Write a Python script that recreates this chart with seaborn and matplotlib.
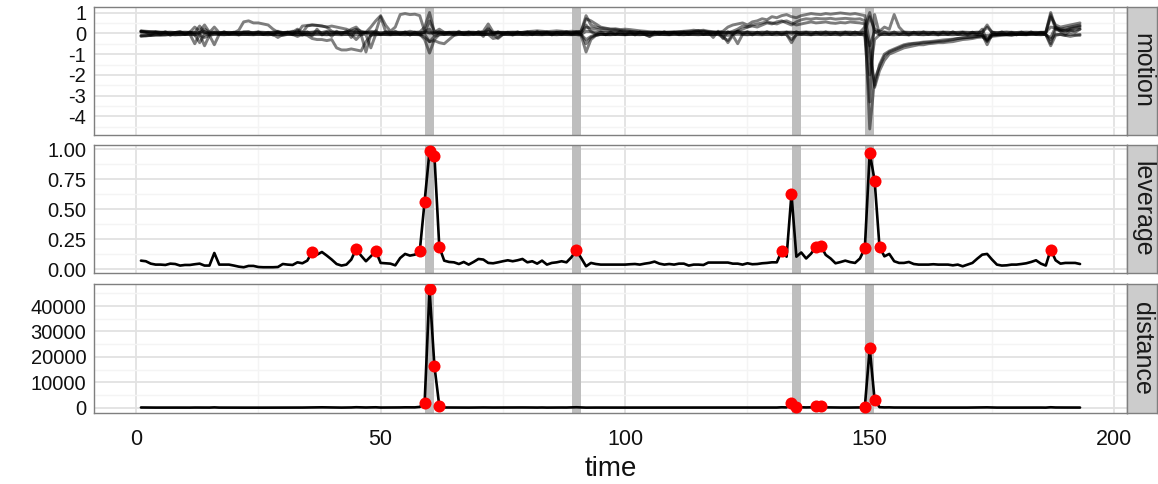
import numpy as np
import pandas as pd
import matplotlib
matplotlib.use("Agg")
import matplotlib.pyplot as plt
import seaborn as sns

# ---------------- data ----------------
time = list(range(1, 194))

motion_1 = [0.10, 0.08, 0.07, 0.08, 0.06, 0.05, 0.06, 0.04, 0.05, 0.06,
            0.05, 0.30, 0.10, 0.40, 0.05, 0.06, 0.04, 0.05, 0.03, 0.05,
            0.04, 0.06, 0.05, 0.04, 0.06, 0.05, 0.03, 0.05, 0.10, 0.04,
            0.05, 0.06, 0.20, 0.05, 0.04, 0.06, 0.05, 0.04, 0.10, 0.05,
            0.06, 0.05, 0.04, 0.20, 0.30, 0.05, 0.04, 0.10, 0.06, 0.80,
            0.10, 0.05, 0.06, 0.05, 0.04, 0.10, 0.05, 0.06, 0.30, 1.00,
            0.05, 0.20, 0.04, 0.05, 0.06, 0.04, 0.05, 0.06, 0.05, 0.04,
            0.10, 0.45, 0.06, 0.05, 0.04, 0.05, 0.06, 0.05, 0.04, 0.06,
            0.05, 0.04, 0.06, 0.05, 0.04, 0.05, 0.06, 0.05, 0.04, 0.05,
            0.10, 0.85, 0.40, 0.30, 0.25, 0.22, 0.20, 0.18, 0.15, 0.12,
            0.10, 0.08, 0.06, 0.05, 0.04, 0.05, 0.06, 0.05, 0.04, 0.05,
            0.06, 0.05, 0.04, 0.05, 0.06, 0.10, 0.05, 0.04, 0.05, 0.06,
            0.05, 0.04, 0.10, 0.05, 0.06, 0.05, 0.04, 0.05, 0.06, 0.05,
            0.04, 0.05, 0.06, 0.05, 0.04, 0.05, 0.06, 0.05, 0.04, 0.05,
            0.06, 0.05, 0.04, 0.05, 0.06, 0.05, 0.04, 0.05, 0.30, 1.00,
            0.05, 0.10, 0.06, 0.05, 0.04, 0.05, 0.06, 0.05, 0.04, 0.05,
            0.06, 0.05, 0.04, 0.05, 0.06, 0.05, 0.04, 0.05, 0.06, 0.05,
            0.04, 0.05, 0.06, 0.40, 0.05, 0.04, 0.05, 0.06, 0.05, 0.04,
            0.05, 0.06, 0.05, 0.04, 0.05, 0.06, 1.00, 0.30, 0.20, 0.15,
            0.25, 0.30, 0.35]

motion_2 = [-0.15, -0.12, -0.10, -0.08, -0.06, -0.05, -0.04, -0.05, -0.06, -0.05,
            -0.04, -0.50, -0.05, -0.60, -0.10, -0.05, -0.04, -0.05, -0.06, -0.05,
            -0.04, -0.05, -0.06, -0.05, -0.04, -0.05, -0.06, -0.05, -0.20, -0.05,
            -0.04, -0.05, -0.15, -0.05, -0.06, -0.05, -0.04, -0.05, -0.06, -0.05,
            -0.04, -0.05, -0.06, -0.05, -0.30, -0.05, -0.06, -0.70, -0.05, -0.04,
            -0.05, -0.06, -0.05, -0.04, -0.05, -0.06, -0.05, -0.04, -0.30, -0.95,
            -0.30, -0.05, -0.06, -0.05, -0.04, -0.05, -0.06, -0.05, -0.04, -0.05,
            -0.06, -0.05, -0.25, -0.20, -0.05, -0.04, -0.05, -0.06, -0.05, -0.04,
            -0.05, -0.06, -0.05, -0.04, -0.05, -0.06, -0.05, -0.04, -0.05, -0.06,
            -0.10, -0.90, -0.30, -0.10, -0.05, -0.06, -0.05, -0.04, -0.05, -0.06,
            -0.05, -0.04, -0.05, -0.06, -0.15, -0.05, -0.04, -0.05, -0.06, -0.05,
            -0.04, -0.05, -0.06, -0.05, -0.04, -0.05, -0.06, -0.05, -0.04, -0.10,
            -0.45, -0.10, -0.50, -0.05, -0.06, -0.05, -0.04, -0.05, -0.06, -0.05,
            -0.04, -0.05, -0.06, -0.45, -0.05, -0.04, -0.05, -0.06, -0.05, -0.04,
            -0.05, -0.06, -0.05, -0.04, -0.05, -0.06, -0.05, -0.04, -0.10, -3.30,
            0.90, -0.05, -0.06, -0.05, -0.04, -0.05, -0.06, -0.05, -0.04, -0.05,
            -0.06, -0.05, -0.04, -0.05, -0.06, -0.05, -0.04, -0.05, -0.06, -0.05,
            -0.04, -0.05, -0.06, -0.55, -0.05, -0.04, -0.05, -0.06, -0.05, -0.04,
            -0.05, -0.06, -0.05, -0.04, -0.05, -0.06, -0.60, -0.10, -0.05, -0.10,
            -0.15, -0.10, -0.05]

motion_3 = [0.12, 0.10, 0.08, 0.05, 0.04, 0.03, 0.02, 0.03, 0.02, 0.01,
            0.02, 0.03, 0.35, 0.02, 0.01, 0.02, 0.03, 0.02, 0.01, 0.02,
            0.15, 0.55, 0.60, 0.50, 0.50, 0.45, 0.40, 0.20, 0.05, 0.02,
            0.03, 0.02, 0.01, 0.35, 0.38, 0.40, 0.38, 0.35, 0.30, 0.10,
            0.02, 0.03, 0.05, 0.10, 0.20, 0.10, 0.05, 0.30, 0.60, 0.85,
            0.40, 0.10, 0.30, 0.90, 0.95, 0.90, 0.92, 0.85, 0.10, 0.02,
            0.03, 0.02, 0.01, 0.02, 0.03, 0.02, 0.01, 0.02, 0.03, 0.02,
            0.05, 0.10, 0.03, 0.02, 0.01, 0.02, 0.03, 0.02, 0.05, 0.08,
            0.10, 0.12, 0.10, 0.08, 0.10, 0.12, 0.10, 0.08, 0.10, 0.08,
            0.10, 0.70, 0.60, 0.45, 0.30, 0.25, 0.20, 0.22, 0.18, 0.20,
            0.18, 0.15, 0.12, 0.10, 0.08, 0.06, 0.05, 0.04, 0.05, 0.06,
            0.05, 0.06, 0.08, 0.10, 0.12, 0.15, 0.10, 0.08, 0.05, 0.10,
            0.30, 0.40, 0.45, 0.50, 0.40, 0.55, 0.60, 0.70, 0.65, 0.80,
            0.75, 0.85, 0.90, 0.80, 0.75, 0.85, 0.90, 0.95, 0.92, 0.90,
            0.95, 0.92, 0.95, 0.98, 0.95, 0.92, 0.95, 0.90, 0.85, -0.50,
            -2.60, -1.80, -1.30, -1.00, -0.90, -0.80, -0.70, -0.65, -0.60, -0.55,
            -0.55, -0.50, -0.48, -0.45, -0.45, -0.42, -0.40, -0.35, -0.30, -0.28,
            -0.25, -0.20, -0.18, -0.30, -0.15, -0.12, -0.10, -0.08, -0.10, -0.05,
            -0.05, -0.03, -0.02, -0.01, 0.00, 0.02, 0.80, 0.40, 0.30, 0.35,
            0.40, 0.45, 0.50]

motion_4 = [-0.10, -0.12, -0.10, -0.08, -0.10, -0.08, -0.06, -0.08, -0.05, -0.06,
            -0.05, -0.06, -0.08, -0.20, -0.10, -0.55, -0.05, -0.06, -0.05, -0.04,
            -0.05, -0.06, -0.05, -0.04, -0.06, -0.05, -0.04, -0.05, -0.06, -0.10,
            -0.05, -0.04, -0.06, -0.05, -0.10, -0.25, -0.30, -0.30, -0.35, -0.30,
            -0.70, -0.80, -0.80, -0.75, -0.80, -0.85, -0.40, -0.10, -0.05, -0.06,
            -0.05, -0.04, -0.06, -0.05, -0.04, -0.05, -0.06, -0.05, -0.20, -0.40,
            -0.35, -0.45, -0.50, -0.30, -0.10, -0.05, -0.06, -0.05, -0.04, -0.05,
            -0.06, -0.05, -0.04, -0.25, -0.05, -0.06, -0.05, -0.04, -0.05, -0.06,
            -0.05, -0.04, -0.05, -0.06, -0.05, -0.04, -0.05, -0.06, -0.05, -0.04,
            -0.05, -0.50, -0.20, -0.10, -0.05, -0.06, -0.05, -0.04, -0.05, -0.06,
            -0.05, -0.04, -0.05, -0.06, -0.05, -0.04, -0.05, -0.06, -0.05, -0.04,
            -0.05, -0.06, -0.05, -0.04, -0.05, -0.06, -0.05, -0.04, -0.05, -0.06,
            -0.10, -0.05, 0.10, 0.20, 0.30, 0.35, 0.30, 0.40, 0.50, 0.45,
            0.55, 0.60, 0.50, 0.40, 0.55, 0.65, 0.70, 0.68, 0.72, 0.70,
            0.70, 0.72, 0.68, 0.70, 0.72, 0.70, 0.68, 0.70, 0.60, -4.60,
            -2.20, -1.60, -1.10, -0.90, -0.80, -0.70, -0.60, -0.55, -0.50, -0.50,
            -0.45, -0.45, -0.42, -0.40, -0.38, -0.35, -0.30, -0.25, -0.22, -0.20,
            -0.18, -0.15, -0.12, -0.40, -0.10, -0.08, -0.06, -0.05, -0.04, -0.05,
            -0.06, -0.05, -0.04, -0.05, -0.06, -0.05, -0.50, 0.20, 0.15, 0.10,
            0.20, 0.25, 0.30]

motion_5 = [0.05, 0.04, 0.03, 0.02, 0.03, 0.02, 0.01, 0.02, 0.03, 0.02,
            0.03, 0.02, 0.01, 0.02, 0.03, 0.02, 0.01, 0.02, 0.03, 0.02,
            0.03, 0.02, 0.01, 0.02, 0.03, 0.02, 0.01, 0.02, 0.03, 0.02,
            0.03, 0.10, 0.05, 0.02, 0.35, 0.40, 0.38, 0.35, 0.30, 0.35,
            0.30, 0.25, 0.20, 0.10, 0.05, 0.02, 0.03, 0.02, 0.01, 0.02,
            0.03, 0.02, 0.01, 0.02, 0.03, 0.02, 0.01, 0.02, 0.03, 0.02,
            0.01, 0.02, 0.03, 0.02, 0.01, 0.02, 0.03, 0.02, 0.01, 0.02,
            0.03, 0.02, 0.01, 0.02, 0.03, 0.02, 0.01, 0.02, 0.03, 0.02,
            0.01, 0.02, 0.03, 0.02, 0.01, 0.02, 0.03, 0.02, 0.01, 0.02,
            0.03, 0.30, 0.25, 0.20, 0.15, 0.12, 0.10, 0.12, 0.10, 0.08,
            0.06, 0.05, 0.04, 0.03, 0.02, 0.03, 0.04, 0.05, 0.06, 0.05,
            0.08, 0.10, 0.12, 0.15, 0.12, 0.10, 0.08, 0.05, 0.04, 0.03,
            0.02, 0.10, 0.20, 0.35, 0.30, 0.40, 0.45, 0.50, 0.55, 0.50,
            0.45, 0.55, 0.60, 0.50, 0.40, 0.45, 0.50, 0.55, 0.50, 0.52,
            0.55, 0.50, 0.48, 0.52, 0.50, 0.55, 0.52, 0.50, 0.45, -1.00,
            -2.50, -1.50, -1.00, -0.85, -0.75, -0.65, -0.55, -0.50, -0.48, -0.45,
            -0.42, -0.40, -0.38, -0.35, -0.32, -0.30, -0.28, -0.25, -0.22, -0.20,
            -0.18, -0.15, -0.12, -0.10, -0.08, -0.06, -0.05, -0.04, -0.03, -0.02,
            -0.02, -0.01, 0.00, 0.01, 0.02, 0.05, 0.30, 0.25, 0.20, 0.25,
            0.30, 0.35, 0.40]

motion_6 = [0.08, 0.06, 0.05, 0.06, 0.04, 0.05, 0.03, 0.04, 0.05, 0.03,
            0.04, 0.05, 0.03, 0.20, 0.04, 0.30, 0.03, 0.04, 0.05, 0.03,
            0.04, 0.05, 0.03, 0.04, 0.05, 0.03, 0.04, 0.05, 0.03, 0.04,
            0.05, 0.03, 0.04, 0.05, 0.03, 0.04, 0.10, 0.03, 0.04, 0.05,
            0.03, 0.04, 0.05, 0.03, 0.04, 0.05, 0.03, 0.04, 0.05, 0.03,
            0.04, 0.05, 0.03, 0.04, 0.05, 0.03, 0.04, 0.05, 0.03, 0.60,
            0.10, 0.04, 0.05, 0.03, 0.04, 0.05, 0.03, 0.04, 0.05, 0.03,
            0.04, 0.20, 0.03, 0.04, 0.05, 0.03, 0.04, 0.05, 0.03, 0.04,
            0.05, 0.03, 0.04, 0.05, 0.03, 0.04, 0.05, 0.03, 0.04, 0.05,
            0.03, 0.40, 0.10, 0.04, 0.05, 0.03, 0.04, 0.05, 0.03, 0.04,
            0.05, 0.03, 0.04, 0.05, 0.03, 0.04, 0.05, 0.03, 0.04, 0.05,
            0.03, 0.04, 0.05, 0.03, 0.04, 0.05, 0.03, 0.04, 0.05, 0.03,
            0.04, 0.05, 0.03, 0.04, 0.05, 0.03, 0.04, 0.05, 0.03, 0.04,
            0.05, 0.03, 0.04, 0.05, 0.03, 0.04, 0.05, 0.03, 0.04, 0.05,
            0.03, 0.04, 0.05, 0.03, 0.04, 0.05, 0.03, 0.04, 0.05, 0.80,
            0.20, 0.10, 0.30, 0.20, 0.90, 0.30, 0.05, 0.03, 0.04, 0.05,
            0.03, 0.04, 0.05, 0.03, 0.04, 0.05, 0.03, 0.04, 0.05, 0.03,
            0.04, 0.05, 0.03, 0.30, 0.05, 0.03, 0.04, 0.05, 0.03, 0.04,
            0.05, 0.03, 0.04, 0.05, 0.03, 0.04, 0.90, 0.20, 0.10, 0.15,
            0.10, 0.15, 0.20]

motion_7 = [-0.12, -0.10, -0.08, -0.07, -0.06, -0.07, -0.05, -0.06, -0.07, -0.05,
            -0.06, -0.07, -0.45, -0.06, -0.07, -0.05, -0.06, -0.07, -0.05, -0.06,
            -0.07, -0.05, -0.06, -0.07, -0.05, -0.06, -0.07, -0.05, -0.06, -0.07,
            -0.05, -0.06, -0.07, -0.05, -0.06, -0.07, -0.05, -0.06, -0.07, -0.05,
            -0.06, -0.07, -0.05, -0.06, -0.07, -0.05, -0.90, -0.06, -0.07, -0.05,
            -0.06, -0.07, -0.05, -0.06, -0.07, -0.05, -0.06, -0.07, -0.05, -0.40,
            -0.15, -0.07, -0.05, -0.06, -0.07, -0.05, -0.06, -0.07, -0.05, -0.06,
            -0.07, -0.05, -0.06, -0.07, -0.05, -0.06, -0.07, -0.05, -0.06, -0.07,
            -0.05, -0.06, -0.07, -0.05, -0.06, -0.07, -0.05, -0.06, -0.07, -0.05,
            -0.06, -0.30, -0.15, -0.07, -0.05, -0.06, -0.07, -0.05, -0.06, -0.07,
            -0.05, -0.06, -0.07, -0.05, -0.06, -0.07, -0.05, -0.06, -0.07, -0.05,
            -0.06, -0.07, -0.05, -0.06, -0.07, -0.05, -0.06, -0.07, -0.05, -0.20,
            -0.35, -0.07, -0.05, -0.06, -0.07, -0.05, -0.06, -0.07, -0.05, -0.06,
            -0.07, -0.05, -0.06, -0.30, -0.07, -0.05, -0.06, -0.07, -0.05, -0.06,
            -0.07, -0.05, -0.06, -0.07, -0.05, -0.06, -0.07, -0.05, -0.06, -2.00,
            -0.30, -0.07, -0.05, -0.06, -0.07, -0.05, -0.06, -0.07, -0.05, -0.06,
            -0.07, -0.05, -0.06, -0.07, -0.05, -0.06, -0.07, -0.05, -0.06, -0.07,
            -0.05, -0.06, -0.07, -0.30, -0.06, -0.07, -0.05, -0.06, -0.07, -0.05,
            -0.06, -0.07, -0.05, -0.06, -0.07, -0.05, -0.30, -0.05, -0.06, -0.10,
            -0.05, -0.08, -0.10]

motion_8 = [0.10, 0.05, -0.08, 0.06, -0.05, 0.08, -0.10, 0.04, 0.09, -0.06,
            0.07, -0.09, 0.05, 0.10, -0.07, 0.06, -0.05, 0.08, -0.04, 0.05,
            -0.08, 0.06, 0.09, -0.05, 0.07, -0.06, 0.05, -0.09, 0.08, -0.04,
            0.06, -0.07, 0.15, -0.10, 0.08, -0.12, 0.20, -0.08, 0.06, -0.15,
            0.10, -0.06, 0.12, -0.20, 0.15, -0.08, 0.06, -0.10, 0.12, -0.07,
            0.08, -0.06, 0.10, -0.05, 0.07, -0.09, 0.06, -0.08, 0.10, 0.20,
            -0.10, 0.08, -0.06, 0.05, -0.08, 0.10, -0.05, 0.07, -0.06, 0.09,
            -0.15, 0.25, -0.10, 0.08, -0.06, 0.05, -0.08, 0.07, -0.05, 0.06,
            -0.07, 0.09, -0.05, 0.06, -0.08, 0.05, -0.06, 0.08, -0.05, 0.07,
            -0.06, 0.10, 0.08, -0.05, 0.06, -0.07, 0.05, -0.06, 0.08, -0.05,
            0.06, -0.08, 0.07, -0.05, -0.15, 0.06, -0.05, 0.08, -0.06, 0.05,
            -0.07, 0.06, -0.05, 0.08, 0.12, -0.06, 0.05, -0.20, 0.10, -0.25,
            0.08, -0.06, 0.10, -0.05, 0.07, -0.08, 0.06, -0.05, 0.08, -0.06,
            0.05, -0.07, 0.06, -0.05, 0.08, -0.06, 0.05, -0.07, 0.06, -0.05,
            0.07, -0.06, 0.05, -0.08, 0.06, -0.05, 0.07, -0.06, 0.08, -0.60,
            0.10, -0.08, 0.06, -0.05, 0.07, -0.06, 0.05, -0.08, 0.06, -0.05,
            0.07, -0.06, 0.05, -0.07, 0.06, -0.05, 0.08, -0.06, 0.05, -0.07,
            0.06, -0.05, 0.20, -0.35, 0.06, -0.05, 0.07, -0.06, 0.05, -0.08,
            0.06, -0.05, 0.07, -0.06, 0.05, -0.08, -0.20, 0.30, 0.10, -0.05,
            0.15, 0.05, 0.20]

leverage = [0.072, 0.067, 0.047, 0.039, 0.039, 0.036, 0.047, 0.044, 0.031, 0.036,
            0.036, 0.042, 0.047, 0.031, 0.031, 0.136, 0.039, 0.039, 0.039, 0.031,
            0.022, 0.017, 0.028, 0.028, 0.019, 0.017, 0.017, 0.017, 0.019, 0.044,
            0.039, 0.036, 0.058, 0.050, 0.072, 0.144, 0.122, 0.144, 0.114, 0.081,
            0.044, 0.031, 0.039, 0.081, 0.169, 0.114, 0.067, 0.108, 0.153, 0.053,
            0.050, 0.047, 0.033, 0.094, 0.128, 0.114, 0.122, 0.150, 0.565, 0.985,
            0.945, 0.186, 0.072, 0.061, 0.058, 0.044, 0.061, 0.039, 0.061, 0.086,
            0.081, 0.053, 0.050, 0.058, 0.067, 0.075, 0.067, 0.075, 0.086, 0.058,
            0.067, 0.047, 0.072, 0.039, 0.053, 0.058, 0.067, 0.058, 0.100, 0.158,
            0.094, 0.025, 0.053, 0.044, 0.039, 0.039, 0.039, 0.039, 0.039, 0.039,
            0.042, 0.044, 0.039, 0.047, 0.053, 0.064, 0.047, 0.039, 0.044, 0.039,
            0.047, 0.047, 0.031, 0.039, 0.039, 0.036, 0.056, 0.056, 0.056, 0.056,
            0.056, 0.047, 0.047, 0.039, 0.050, 0.042, 0.044, 0.050, 0.053, 0.058,
            0.058, 0.153, 0.105, 0.628, 0.105, 0.140, 0.090, 0.130, 0.185, 0.195,
            0.120, 0.090, 0.050, 0.060, 0.072, 0.060, 0.053, 0.090, 0.175, 0.970,
            0.740, 0.186, 0.108, 0.128, 0.067, 0.053, 0.053, 0.061, 0.044, 0.039,
            0.039, 0.039, 0.042, 0.039, 0.039, 0.039, 0.033, 0.039, 0.025, 0.039,
            0.053, 0.089, 0.122, 0.128, 0.081, 0.039, 0.031, 0.033, 0.039, 0.039,
            0.044, 0.050, 0.061, 0.075, 0.047, 0.031, 0.164, 0.075, 0.047, 0.053,
            0.053, 0.053, 0.044]

distance = [80, 60, 50, 40, 50, 40, 30, 40, 30, 40,
            30, 60, 40, 50, 40, 120, 40, 30, 40, 30,
            20, 20, 30, 30, 20, 20, 20, 20, 20, 50,
            40, 40, 60, 50, 80, 150, 120, 150, 120, 90,
            50, 40, 50, 90, 180, 120, 80, 110, 160, 60,
            60, 50, 40, 100, 140, 120, 130, 300, 1900, 46600,
            16400, 650, 80, 70, 60, 50, 70, 40, 70, 90,
            90, 60, 60, 70, 70, 80, 70, 80, 90, 60,
            70, 50, 80, 40, 60, 60, 70, 60, 110, 170,
            100, 30, 60, 50, 40, 40, 40, 40, 40, 40,
            50, 50, 40, 50, 60, 70, 50, 40, 50, 40,
            50, 50, 30, 40, 40, 40, 60, 60, 60, 60,
            60, 50, 50, 40, 50, 50, 50, 50, 60, 60,
            60, 160, 110, 2000, 400, 150, 100, 140, 650, 650,
            130, 100, 50, 60, 80, 60, 60, 100, 400, 23400,
            3000, 200, 110, 130, 70, 60, 60, 60, 50, 40,
            40, 40, 50, 40, 40, 40, 30, 40, 30, 40,
            60, 90, 130, 130, 80, 40, 30, 30, 40, 40,
            50, 50, 60, 80, 50, 30, 170, 80, 50, 60,
            60, 60, 50]

leverage_outliers = [36, 45, 49, 58, 59, 60, 61, 62, 90, 132, 134, 139, 140,
                     149, 150, 151, 152, 187]
distance_outliers = [59, 60, 61, 62, 134, 135, 139, 140, 149, 150, 151]
events = [60, 90, 135, 150]

panel_names = ["motion", "leverage", "distance"]

# ---------------- frames ----------------
motion_series = [motion_1, motion_2, motion_3, motion_4,
                 motion_5, motion_6, motion_7, motion_8]
motion_df = pd.concat(
    [pd.DataFrame({"time": time, "value": s, "param": f"p{i}"})
     for i, s in enumerate(motion_series)], ignore_index=True)
lev_df = pd.DataFrame({"time": time, "value": leverage})
dist_df = pd.DataFrame({"time": time, "value": distance})
lev_out = lev_df[lev_df["time"].isin(leverage_outliers)]
dist_out = dist_df[dist_df["time"].isin(distance_outliers)]

# ---------------- style ----------------
sns.set_theme(style="white")
plt.rcParams["font.family"] = ["Liberation Sans", "DejaVu Sans"]
plt.rcParams["axes.unicode_minus"] = False

W, H = 1158, 484
fig = plt.figure(figsize=(W / 100, H / 100), dpi=100)

left_px, right_px, strip_w = 94, 1127, 30
panels_px = [(6.7, 135.0), (145.0, 273.0), (284.3, 412.7)]
ylims = [(-4.89, 1.28), (-0.031, 1.036), (-1970, 48580)]
yticks = [[-4, -3, -2, -1, 0, 1],
          [0, 0.25, 0.5, 0.75, 1.0],
          [0, 10000, 20000, 30000, 40000]]
yticklabels = [["-4", "-3", "-2", "-1", "0", "1"],
               ["0.00", "0.25", "0.50", "0.75", "1.00"],
               ["0", "10000", "20000", "30000", "40000"]]
yminor = [[-4.5, -3.5, -2.5, -1.5, -0.5, 0.5],
          [0.125, 0.375, 0.625, 0.875],
          [5000, 15000, 25000, 35000, 45000]]

axes = []
for k, (top, bot) in enumerate(panels_px):
    ax = fig.add_axes([left_px / W, 1 - bot / H, (right_px - left_px) / W, (bot - top) / H])
    axes.append(ax)
    ax.set_facecolor("white")
    ax.set_xlim(-8.6, 202.6)
    ax.set_ylim(*ylims[k])
    ax.set_xticks([0, 50, 100, 150, 200])
    ax.set_xticks([25, 75, 125, 175], minor=True)
    ax.set_yticks(yticks[k])
    ax.set_yticklabels(yticklabels[k])
    ax.set_yticks(yminor[k], minor=True)
    ax.grid(which="major", color="#E2E2E2", lw=1.3)
    ax.grid(which="minor", color="#F4F4F4", lw=1.0)
    ax.set_axisbelow(True)
    ax.tick_params(which="minor", length=0)
    ax.tick_params(axis="y", which="major", length=4.5, width=1.1, color="#222222",
                   labelsize=14.5, labelcolor="#111111", pad=1)
    for sp in ax.spines.values():
        sp.set_color("#7F7F7F")
        sp.set_linewidth(1.0)
    for e in events:
        ax.axvspan(e - 0.95, e + 0.95, color="#BEBEBE", lw=0, zorder=1.5)
    if k < 2:
        ax.tick_params(axis="x", labelbottom=False, length=0)

    # strip
    sax = fig.add_axes([right_px / W, 1 - bot / H, strip_w / W, (bot - top) / H])
    sax.set_facecolor("#CCCCCC")
    sax.set_xticks([])
    sax.set_yticks([])
    for sp in sax.spines.values():
        sp.set_color("#7F7F7F")
        sp.set_linewidth(1.0)
    sax.text(0.5, 0.5, panel_names[k], rotation=-90, ha="center", va="center",
             fontsize=18, color="#1A1A1A", transform=sax.transAxes)

# motion lines
sns.lineplot(data=motion_df, x="time", y="value", units="param", estimator=None,
             color="black", alpha=0.5, lw=2.1, ax=axes[0], zorder=3)

# leverage
sns.lineplot(data=lev_df, x="time", y="value", color="black", lw=1.9, ax=axes[1], zorder=3)
sns.scatterplot(data=lev_out, x="time", y="value", color="red", s=75, linewidth=0,
                ax=axes[1], zorder=4)

# distance
sns.lineplot(data=dist_df, x="time", y="value", color="black", lw=1.9, ax=axes[2], zorder=3)
sns.scatterplot(data=dist_out, x="time", y="value", color="red", s=75, linewidth=0,
                ax=axes[2], zorder=4)

for k, ax in enumerate(axes):
    ax.set_xlabel("")
    ax.set_ylabel("")
    ax.set_xlim(-8.6, 202.6)
    ax.set_ylim(*ylims[k])

axes[2].set_xlabel("time", fontsize=20, color="#111111", labelpad=4)
axes[2].tick_params(axis="x", which="major", length=7, width=1.1, color="#222222",
                    labelsize=15.5, labelcolor="#111111", pad=5)

fig.savefig("out.png", dpi=100)
